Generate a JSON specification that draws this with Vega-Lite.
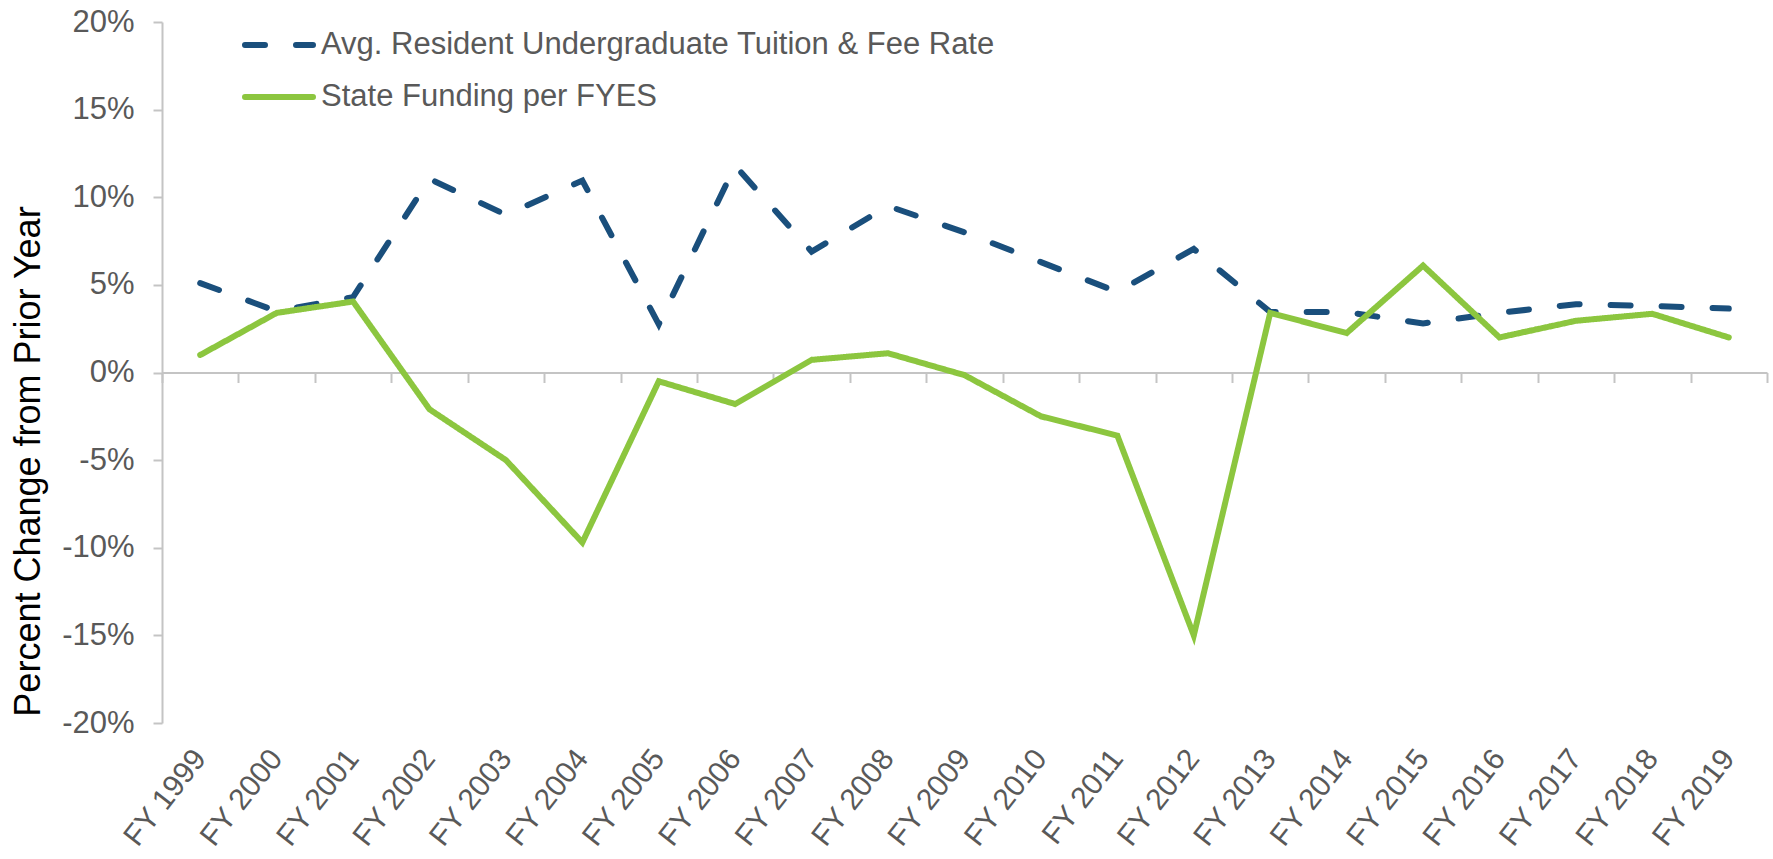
{
  "$schema": "https://vega.github.io/schema/vega-lite/v6.json",
  "width": 1605,
  "height": 701,
  "autosize": {"type": "none"},
  "padding": {"left": 162, "top": 22, "right": 6, "bottom": 136},
  "background": "white",
  "config": {
    "font": "Liberation Sans",
    "view": {"stroke": null}
  },
  "data": {
    "values": [
      {"year": "FY 1999", "series": "Avg. Resident Undergraduate Tuition & Fee Rate", "value": 5.1},
      {"year": "FY 2000", "series": "Avg. Resident Undergraduate Tuition & Fee Rate", "value": 3.5},
      {"year": "FY 2001", "series": "Avg. Resident Undergraduate Tuition & Fee Rate", "value": 4.3},
      {"year": "FY 2002", "series": "Avg. Resident Undergraduate Tuition & Fee Rate", "value": 11.05},
      {"year": "FY 2003", "series": "Avg. Resident Undergraduate Tuition & Fee Rate", "value": 9.0},
      {"year": "FY 2004", "series": "Avg. Resident Undergraduate Tuition & Fee Rate", "value": 10.95},
      {"year": "FY 2005", "series": "Avg. Resident Undergraduate Tuition & Fee Rate", "value": 2.75},
      {"year": "FY 2006", "series": "Avg. Resident Undergraduate Tuition & Fee Rate", "value": 11.8},
      {"year": "FY 2007", "series": "Avg. Resident Undergraduate Tuition & Fee Rate", "value": 6.9},
      {"year": "FY 2008", "series": "Avg. Resident Undergraduate Tuition & Fee Rate", "value": 9.5},
      {"year": "FY 2009", "series": "Avg. Resident Undergraduate Tuition & Fee Rate", "value": 8.0},
      {"year": "FY 2010", "series": "Avg. Resident Undergraduate Tuition & Fee Rate", "value": 6.3},
      {"year": "FY 2011", "series": "Avg. Resident Undergraduate Tuition & Fee Rate", "value": 4.6},
      {"year": "FY 2012", "series": "Avg. Resident Undergraduate Tuition & Fee Rate", "value": 7.05},
      {"year": "FY 2013", "series": "Avg. Resident Undergraduate Tuition & Fee Rate", "value": 3.45},
      {"year": "FY 2014", "series": "Avg. Resident Undergraduate Tuition & Fee Rate", "value": 3.45},
      {"year": "FY 2015", "series": "Avg. Resident Undergraduate Tuition & Fee Rate", "value": 2.8},
      {"year": "FY 2016", "series": "Avg. Resident Undergraduate Tuition & Fee Rate", "value": 3.4},
      {"year": "FY 2017", "series": "Avg. Resident Undergraduate Tuition & Fee Rate", "value": 3.9},
      {"year": "FY 2018", "series": "Avg. Resident Undergraduate Tuition & Fee Rate", "value": 3.8},
      {"year": "FY 2019", "series": "Avg. Resident Undergraduate Tuition & Fee Rate", "value": 3.65},
      {"year": "FY 1999", "series": "State Funding per FYES", "value": 1.0},
      {"year": "FY 2000", "series": "State Funding per FYES", "value": 3.4},
      {"year": "FY 2001", "series": "State Funding per FYES", "value": 4.05},
      {"year": "FY 2002", "series": "State Funding per FYES", "value": -2.1},
      {"year": "FY 2003", "series": "State Funding per FYES", "value": -5.0},
      {"year": "FY 2004", "series": "State Funding per FYES", "value": -9.7},
      {"year": "FY 2005", "series": "State Funding per FYES", "value": -0.5},
      {"year": "FY 2006", "series": "State Funding per FYES", "value": -1.8},
      {"year": "FY 2007", "series": "State Funding per FYES", "value": 0.72},
      {"year": "FY 2008", "series": "State Funding per FYES", "value": 1.1},
      {"year": "FY 2009", "series": "State Funding per FYES", "value": -0.15},
      {"year": "FY 2010", "series": "State Funding per FYES", "value": -2.5},
      {"year": "FY 2011", "series": "State Funding per FYES", "value": -3.6},
      {"year": "FY 2012", "series": "State Funding per FYES", "value": -15.0},
      {"year": "FY 2013", "series": "State Funding per FYES", "value": 3.4},
      {"year": "FY 2014", "series": "State Funding per FYES", "value": 2.25},
      {"year": "FY 2015", "series": "State Funding per FYES", "value": 6.1},
      {"year": "FY 2016", "series": "State Funding per FYES", "value": 2.0},
      {"year": "FY 2017", "series": "State Funding per FYES", "value": 2.95},
      {"year": "FY 2018", "series": "State Funding per FYES", "value": 3.35},
      {"year": "FY 2019", "series": "State Funding per FYES", "value": 2.0}
    ]
  },
  "resolve": {"axis": {"x": "independent"}},
  "layer": [
    {
      "mark": {"type": "point", "opacity": 0},
      "encoding": {
        "x": {
          "field": "year", "type": "nominal",
          "scale": {"type": "band", "paddingInner": 0, "paddingOuter": 0},
          "axis": {
            "orient": "bottom",
            "offset": -350.5,
            "title": null,
            "labels": false,
            "domain": true,
            "domainColor": "#c4c4c4",
            "domainWidth": 2,
            "ticks": true,
            "tickBand": "extent",
            "tickColor": "#c4c4c4",
            "tickWidth": 2,
            "tickSize": 10,
            "grid": false
          }
        },
        "y": {"datum": 0, "type": "quantitative"}
      }
    },
    {
      "mark": {"type": "line", "strokeWidth": 6, "strokeCap": "round", "strokeJoin": "miter"},
      "encoding": {
        "x": {
          "field": "year", "type": "nominal", "bandPosition": 0.5,
          "scale": {"type": "band", "paddingInner": 0, "paddingOuter": 0},
          "axis": {
            "orient": "bottom",
            "title": null,
            "domain": false,
            "ticks": false,
            "grid": false,
            "labelAngle": -52,
            "labelAlign": "right",
            "labelBaseline": "middle",
            "labelFontSize": 30,
            "labelColor": "#595959",
            "labelPadding": 30
          }
        },
        "y": {
          "field": "value", "type": "quantitative",
          "scale": {"domain": [-20, 20], "nice": false, "zero": false},
          "axis": {
            "title": "Percent Change from Prior Year",
            "titleFontSize": 36,
            "titleFontWeight": "normal",
            "titleColor": "#000000",
            "titleAngle": -90,
            "titleAlign": "center",
            "titleBaseline": "middle",
            "titleX": -134,
            "titleY": 439,
            "values": [-20, -15, -10, -5, 0, 5, 10, 15, 20],
            "labelExpr": "datum.value + '%'",
            "labelFontSize": 31,
            "labelColor": "#595959",
            "labelPadding": 19,
            "grid": false,
            "domain": true,
            "domainColor": "#c4c4c4",
            "domainWidth": 2,
            "ticks": true,
            "tickColor": "#c4c4c4",
            "tickWidth": 2,
            "tickSize": 9
          }
        },
        "color": {
          "field": "series", "type": "nominal",
          "scale": {
            "domain": ["Avg. Resident Undergraduate Tuition & Fee Rate", "State Funding per FYES"],
            "range": ["#1A4F7C", "#8CC63F"]
          },
          "legend": {
            "title": null,
            "orient": "none",
            "legendX": 80,
            "legendY": -14,
            "symbolType": "stroke",
            "symbolSize": 4624,
            "symbolStrokeWidth": 6,
            "labelFontSize": 31,
            "labelColor": "#595959",
            "labelOffset": 5,
            "labelLimit": 0,
            "rowPadding": -1,
            "encode": {
              "symbols": {
                "update": {
                  "strokeCap": {"value": "round"},
                  "strokeDash": [
                    {"test": "datum.value === 'State Funding per FYES'", "value": [1, 0]},
                    {"value": [22, 29]}
                  ]
                }
              }
            }
          }
        },
        "strokeDash": {
          "field": "series", "type": "nominal",
          "scale": {
            "domain": ["Avg. Resident Undergraduate Tuition & Fee Rate", "State Funding per FYES"],
            "range": [[20, 31], [1, 0]]
          },
          "legend": {
            "title": null,
            "orient": "none",
            "legendX": 80,
            "legendY": -14,
            "symbolType": "stroke",
            "symbolSize": 4624,
            "symbolStrokeWidth": 6,
            "labelFontSize": 31,
            "labelColor": "#595959",
            "labelOffset": 5,
            "labelLimit": 0,
            "rowPadding": -1,
            "encode": {
              "symbols": {
                "update": {
                  "strokeCap": {"value": "round"},
                  "strokeDash": [
                    {"test": "datum.value === 'State Funding per FYES'", "value": [1, 0]},
                    {"value": [22, 29]}
                  ]
                }
              }
            }
          }
        }
      }
    }
  ]
}
